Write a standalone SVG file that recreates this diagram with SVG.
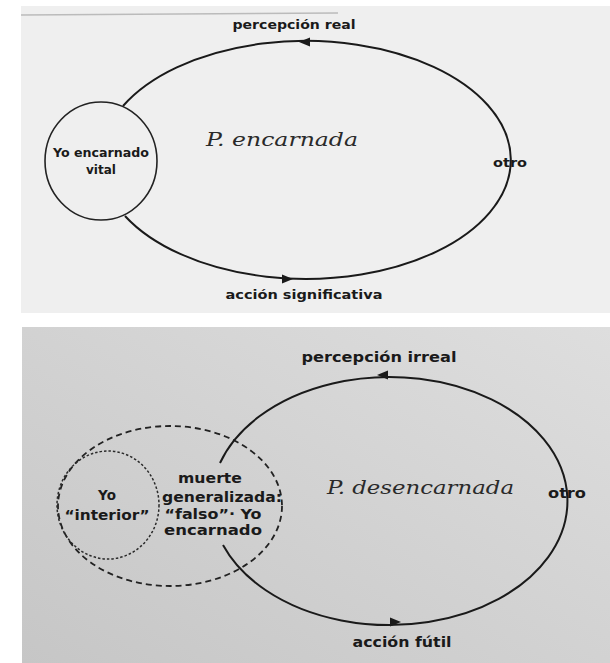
<svg xmlns="http://www.w3.org/2000/svg" width="610" height="663" viewBox="0 0 610 663">
<defs>
<linearGradient id="bg2" x1="1" y1="0" x2="0" y2="1">
<stop offset="0" stop-color="#dedede"/>
<stop offset="1" stop-color="#c6c6c6"/>
</linearGradient>
<path id="arrowL" d="M -6 0 L 5 -4.5 L 5 4.5 Z" fill="#1a1a1a"/>
<path id="arrowR" d="M 6 0 L -5 -4.5 L -5 4.5 Z" fill="#1a1a1a"/>
</defs>
<style>
.lbl{font-family:"DejaVu Sans","Liberation Sans",sans-serif;font-weight:bold;font-size:12px;fill:#1a1a1a;text-anchor:middle}
.big{font-size:13.5px}
.hand{font-family:"DejaVu Serif","Liberation Serif",serif;font-style:italic;font-size:18px;fill:#2a2a2a}
.solid{fill:none;stroke:#1a1a1a;stroke-width:2}
.thin{fill:none;stroke:#222;stroke-width:1.6}
.dash{fill:none;stroke:#222;stroke-width:1.8;stroke-dasharray:6 4}
.dot{fill:none;stroke:#2a2a2a;stroke-width:1.5;stroke-dasharray:2.5 2}
</style>
<rect width="610" height="663" fill="#ffffff"/>
<rect x="21" y="6" width="589" height="307" fill="#efefef"/>
<line x1="21" y1="15" x2="338" y2="13" stroke="#bbb" stroke-width="1.5"/>
<rect x="22" y="327" width="588" height="336" fill="url(#bg2)"/>

<!-- top diagram -->
<g id="yo-encarnado-vital">
<ellipse cx="101" cy="161" rx="56" ry="59" class="thin"/>
<text class="lbl" x="101" y="157" font-size="11" textLength="96" lengthAdjust="spacingAndGlyphs">Yo encarnado</text>
<text class="lbl" x="101" y="174" font-size="11">vital</text>
</g>
<g id="otro-top">
<text class="lbl" x="510" y="167" textLength="34" lengthAdjust="spacingAndGlyphs">otro</text>
</g>
<g id="p-encarnada">
<text class="hand" x="206" y="146" textLength="152" lengthAdjust="spacingAndGlyphs">P. encarnada</text>
</g>
<g id="connectors-top">
<path class="solid" d="M 123 106 A 205 119 0 1 1 125 216"/>
<use href="#arrowL" x="305" y="42"/>
<use href="#arrowR" x="287" y="279"/>
<text class="lbl" x="294" y="29" textLength="123" lengthAdjust="spacingAndGlyphs">percepción real</text>
<text class="lbl" x="304" y="299" textLength="157" lengthAdjust="spacingAndGlyphs">acción significativa</text>
</g>

<!-- bottom diagram -->
<g id="muerte-generalizada">
<ellipse cx="170" cy="506" rx="112" ry="80" class="dash"/>
<text class="lbl big" x="210" y="483" textLength="64" lengthAdjust="spacingAndGlyphs">muerte</text>
<text class="lbl big" x="222" y="502" textLength="120" lengthAdjust="spacingAndGlyphs">generalizada:</text>
<text class="lbl big" x="213" y="519" textLength="97" lengthAdjust="spacingAndGlyphs">“falso”· Yo</text>
<text class="lbl big" x="213" y="535" textLength="98" lengthAdjust="spacingAndGlyphs">encarnado</text>
</g>
<g id="yo-interior">
<ellipse cx="108" cy="505" rx="51" ry="54" class="dot"/>
<text class="lbl big" x="107" y="500">Yo</text>
<text class="lbl big" x="107" y="520" textLength="85" lengthAdjust="spacingAndGlyphs">“interior”</text>
</g>
<g id="otro-bottom">
<text class="lbl big" x="567" y="498" textLength="38" lengthAdjust="spacingAndGlyphs">otro</text>
</g>
<g id="p-desencarnada">
<text class="hand" x="327" y="494" textLength="187" lengthAdjust="spacingAndGlyphs">P. desencarnada</text>
</g>
<g id="connectors-bottom">
<path class="solid" d="M 220 463 A 178 124 0 1 1 223 545"/>
<use href="#arrowL" x="383" y="375"/>
<use href="#arrowR" x="395" y="622"/>
<text class="lbl big" x="379" y="362" textLength="155" lengthAdjust="spacingAndGlyphs">percepción irreal</text>
<text class="lbl big" x="402" y="647" textLength="99" lengthAdjust="spacingAndGlyphs">acción fútil</text>
</g>
</svg>
